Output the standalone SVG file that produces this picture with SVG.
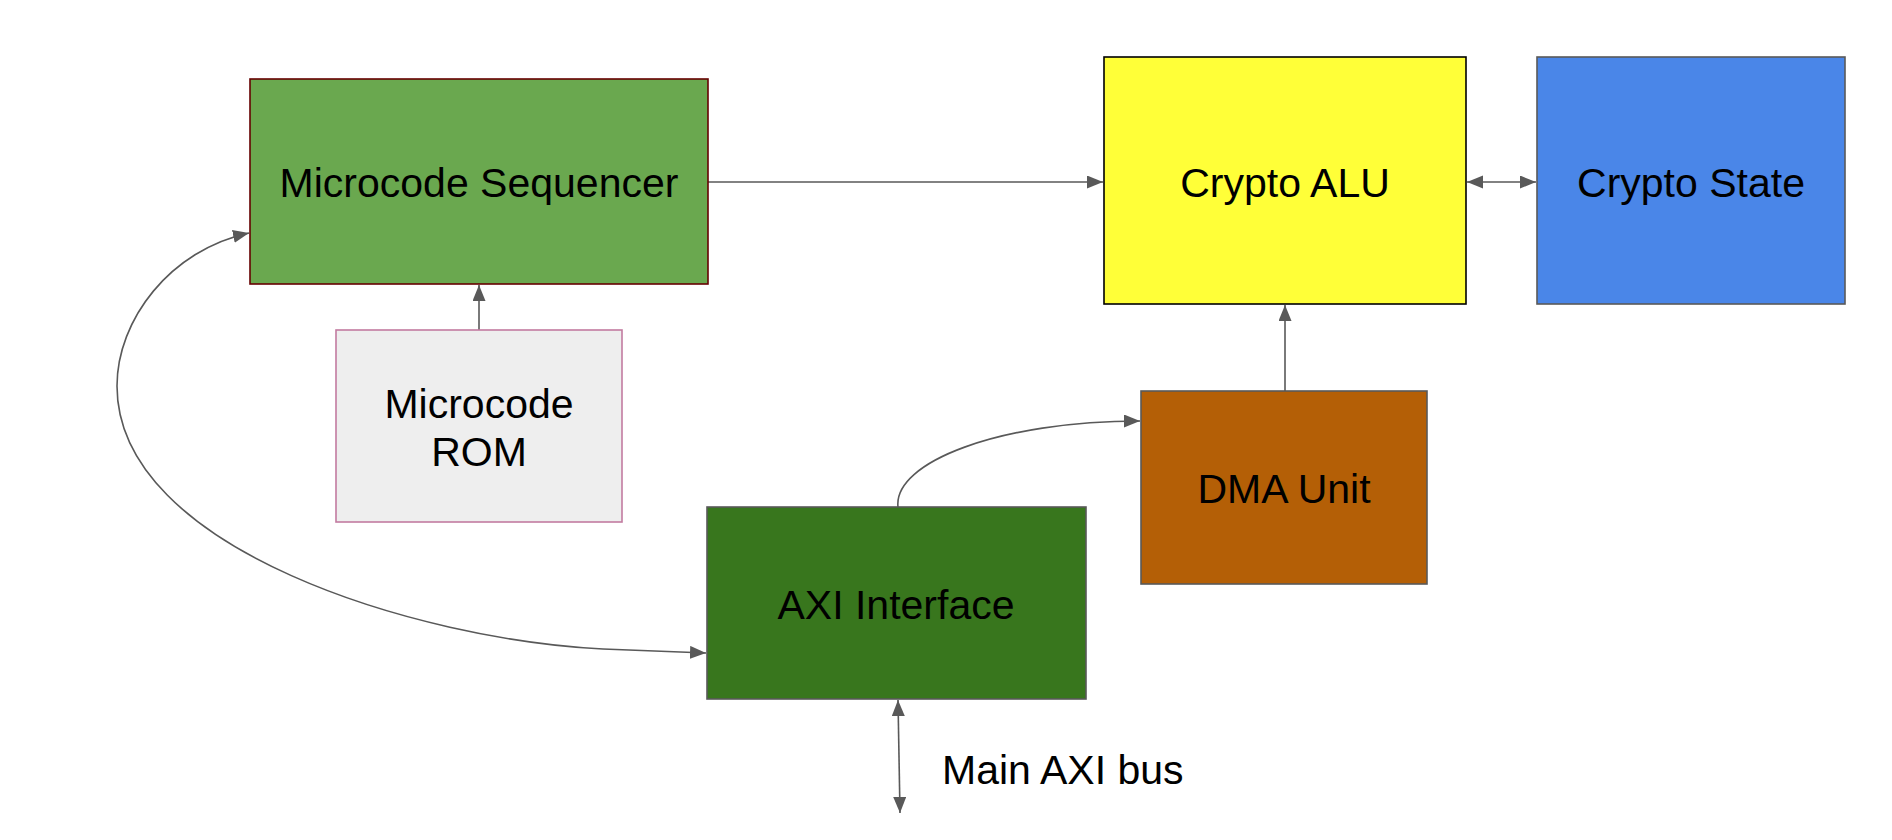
<svg xmlns="http://www.w3.org/2000/svg" width="1892" height="840" viewBox="0 0 1892 840">
<style>
.lbl{font-family:"Liberation Sans",Arial,sans-serif;font-size:41px;fill:#000;text-anchor:middle}
.conn{fill:none;stroke:#595959;stroke-width:1.6}
</style>
<defs>
<marker id="ah" markerUnits="userSpaceOnUse" markerWidth="17" markerHeight="14" refX="16" refY="6.5" orient="auto-start-reverse" viewBox="0 0 17 14">
<path d="M0,0 L16,6.5 L0,13 z" fill="#595959"/>
</marker>
</defs>
<rect width="1892" height="840" fill="#fff"/>
<g id="connectors">
<path class="conn" d="M708,182 L1103,182" marker-end="url(#ah)"/>
<path class="conn" d="M1467,182 L1536,182" marker-start="url(#ah)" marker-end="url(#ah)"/>
<path class="conn" d="M479,330 L479,285" marker-end="url(#ah)"/>
<path class="conn" d="M1285,391 L1285,305" marker-end="url(#ah)"/>
<path class="conn" d="M898,507 C893,462 1000,421 1140,421" marker-end="url(#ah)"/>
<path class="conn" d="M706,653 L603,649 C420,640 117,550 117,386 C117,320 170,250 249,233" marker-start="url(#ah)" marker-end="url(#ah)"/>
<path class="conn" d="M898,700 L900,813" marker-start="url(#ah)" marker-end="url(#ah)"/>
</g>
<g id="microcode-sequencer">
<rect x="250" y="79" width="458" height="205" fill="#6aa84f" stroke="#660000" stroke-width="1.6"/>
<text class="lbl" x="479" y="197">Microcode Sequencer</text>
</g>
<g id="crypto-alu">
<rect x="1104" y="57" width="362" height="247" fill="#ffff38" stroke="#000" stroke-width="1.6"/>
<text class="lbl" x="1285" y="197">Crypto ALU</text>
</g>
<g id="crypto-state">
<rect x="1537" y="57" width="308" height="247" fill="#4a86e8" stroke="#595959" stroke-width="1.6"/>
<text class="lbl" x="1691" y="197">Crypto State</text>
</g>
<g id="microcode-rom">
<rect x="336" y="330" width="286" height="192" fill="#eeeeee" stroke="#c27ba0" stroke-width="1.6"/>
<text class="lbl" x="479" y="418">Microcode</text>
<text class="lbl" x="479" y="466">ROM</text>
</g>
<g id="dma-unit">
<rect x="1141" y="391" width="286" height="193" fill="#b45f06" stroke="#595959" stroke-width="1.6"/>
<text class="lbl" x="1284" y="503">DMA Unit</text>
</g>
<g id="axi-interface">
<rect x="707" y="507" width="379" height="192" fill="#38761d" stroke="#595959" stroke-width="1.6"/>
<text class="lbl" x="896" y="619">AXI Interface</text>
</g>
<g id="main-axi-bus">
<text class="lbl" x="942" y="784" style="text-anchor:start">Main AXI bus</text>
</g>
</svg>
